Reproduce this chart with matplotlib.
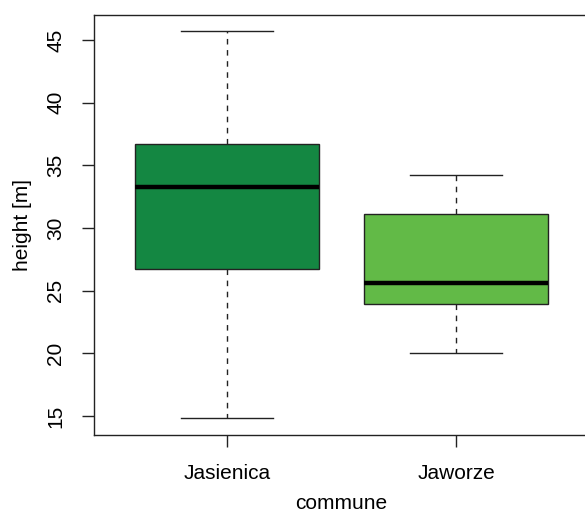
import matplotlib
matplotlib.use("Agg")
import matplotlib.pyplot as plt

# values
communes = ["Jasienica", "Jaworze"]
whislo = [14.8, 20.0]
q1 = [26.7, 23.9]
med = [33.3, 25.6]
q3 = [36.7, 31.1]
whishi = [45.7, 34.2]
colors = ["#148742", "#62BA47"]

plt.rcParams["font.family"] = ["Liberation Sans", "DejaVu Sans"]

fig = plt.figure(figsize=(5.85, 5.13), dpi=100)
ax = fig.add_axes([94 / 585, 78 / 513, 495 / 585, 420 / 513])

stats = []
for i, name in enumerate(communes):
    stats.append({"label": name, "whislo": whislo[i], "q1": q1[i], "med": med[i],
                  "q3": q3[i], "whishi": whishi[i], "fliers": []})

bp = ax.bxp(stats, positions=[1, 2], widths=0.8, capwidths=0.4,
            patch_artist=True, showfliers=False,
            boxprops=dict(edgecolor="#222222", linewidth=1.0),
            medianprops=dict(color="black", linewidth=3.2, solid_capstyle="butt"),
            whiskerprops=dict(color="#222222", linewidth=1.0, linestyle=(0, (4, 4))),
            capprops=dict(color="#222222", linewidth=1.0))
for patch, c in zip(bp["boxes"], colors):
    patch.set_facecolor(c)

ax.set_xlim(0.42, 2.58)
ax.set_ylim(13.48, 46.99)
ax.set_yticks([15, 20, 25, 30, 35, 40, 45])
ax.set_xticks([1, 2])
ax.set_xticklabels(communes)

for s in ax.spines.values():
    s.set_color("#222222")
    s.set_linewidth(1.0)

ax.tick_params(axis="both", length=8.6, width=1.0, color="#222222", labelsize=15)
ax.tick_params(axis="y", pad=12)
ax.tick_params(axis="x", pad=12)
for t in ax.get_yticklabels():
    t.set_rotation(90)
    t.set_va("center")

ax.set_xlabel("commune", fontsize=15, labelpad=8)
ax.set_ylabel("height [m]", fontsize=15, labelpad=10)

fig.savefig("out.png", dpi=100)
